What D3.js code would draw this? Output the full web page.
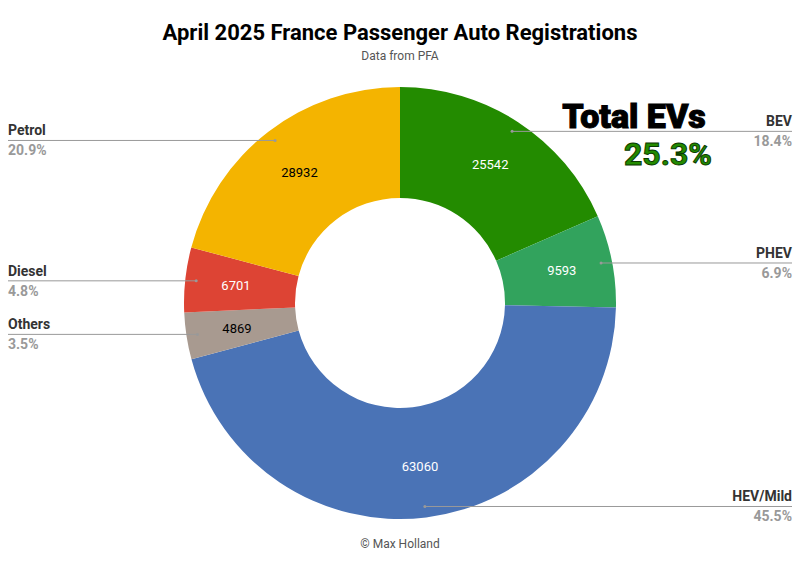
<!DOCTYPE html><html><head><meta charset="utf-8"><script src="https://cdn.jsdelivr.net/npm/d3@7"></script>
<style>body{margin:0;background:#fff}</style></head><body><svg id="c" width="800" height="566"></svg>
<script>
const categories=["BEV","PHEV","HEV/Mild","Others","Diesel","Petrol"];
const values=[25542,9593,63060,4869,6701,28932];
const colors=["#238b00","#32a35d","#4a73b6","#a89a90","#dd4434","#f4b400"];
const textColors=["#fff","#fff","#fff","#000","#fff","#000"];
const svg=d3.select("#c");
const cx=400,cy=303,R=216,r=105;
const total=d3.sum(values);
const pie=d3.pie().sort(null).value(d=>d)(values);
const arc=d3.arc().innerRadius(r).outerRadius(R);
const g=svg.append("g").attr("transform",`translate(${cx},${cy})`);
g.selectAll("path").data(pie).join("path").attr("d",arc).attr("fill",(d,i)=>colors[i]);
const lab=d3.arc().innerRadius(165).outerRadius(165);
g.selectAll("text.v").data(pie).join("text").attr("class","v")
 .attr("x",d=>lab.centroid(d)[0]).attr("y",d=>lab.centroid(d)[1]).attr("dy","0.35em")
 .attr("text-anchor","middle").attr("font-family","Roboto").attr("font-size",13)
 .attr("fill",(d,i)=>textColors[i]).text((d,i)=>values[i]);
const dotA=d3.arc().innerRadius(205).outerRadius(205);
pie.forEach((d,i)=>{
 const [x,y]=dotA.centroid(d);
 const mid=(d.startAngle+d.endAngle)/2;
 const right=mid<Math.PI;
 const ex=right?392:-392;
 g.append("line").attr("x1",x).attr("y1",y).attr("x2",ex).attr("y2",y).attr("stroke","#999").attr("stroke-width",1);
 g.append("circle").attr("cx",x).attr("cy",y).attr("r",1.5).attr("fill","#999");
 const t=g.append("text").attr("text-anchor",right?"end":"start").attr("font-family","Roboto").attr("font-weight","bold").attr("font-size",14);
 t.append("tspan").attr("x",ex).attr("y",y-5).attr("fill","#333").text(categories[i]);
 t.append("tspan").attr("x",ex).attr("y",y+15).attr("fill","#999").text((values[i]/total*100).toFixed(1)+"%");
});
svg.append("text").attr("x",400).attr("y",40).attr("text-anchor","middle").attr("font-family","Roboto").attr("font-weight","bold").attr("font-size",22).text("April 2025 France Passenger Auto Registrations");
svg.append("text").attr("x",400).attr("y",60).attr("text-anchor","middle").attr("font-family","Roboto").attr("font-size",12).attr("fill","#555").text("Data from PFA");
svg.append("text").attr("x",400).attr("y",548).attr("text-anchor","middle").attr("font-family","Roboto").attr("font-size",12).attr("fill","#555").text("© Max Holland");
svg.append("text").attr("x",634).attr("y",128).attr("text-anchor","middle").attr("font-family","Roboto").attr("font-weight","900").attr("font-size",34).attr("fill","#000").attr("stroke","#000").attr("stroke-width",1).text("Total EVs");
const ev=(values[0]+values[1])/total*100;
svg.append("text").attr("x",668).attr("y",165).attr("text-anchor","middle").attr("font-family","Roboto").attr("font-weight","bold").attr("font-size",32).attr("fill","#238b00").attr("stroke","#0a3a00").attr("stroke-width",1).text(ev.toFixed(1)+"%");
</script></body></html>
